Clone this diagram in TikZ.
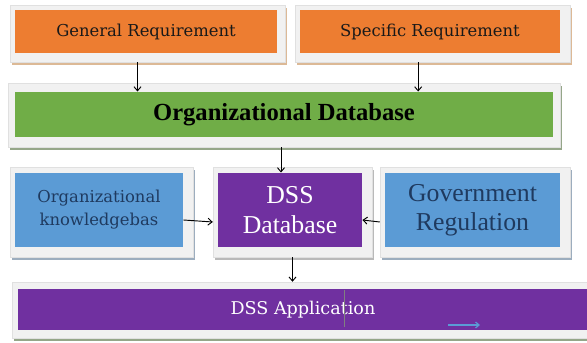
\documentclass[tikz,border=0pt]{standalone}
\usepackage{fontspec}
\setmainfont{Liberation Serif}
\newfontfamily\slabfont{DejaVu Serif}
\usetikzlibrary{shadows,arrows.meta}

\definecolor{reqorange}{HTML}{ED7D31}
\definecolor{dbgreen}{HTML}{70AD47}
\definecolor{kbblue}{HTML}{5B9BD5}
\definecolor{dsspurple}{HTML}{7030A0}
\definecolor{kbtext}{HTML}{1F3A5F}
\definecolor{framegray}{HTML}{F1F1F1}

\begin{document}
\begin{tikzpicture}[x=0.03cm,y=-0.03cm,
  thick,
  frame box/.style={rectangle,draw=black!12,fill=framegray,line width=0.4pt,inner sep=0pt},
  brown shadow/.style={drop shadow={fill=brown!55!white,opacity=1,shadow xshift=1.5pt,shadow yshift=-2.5pt}},
  green shadow/.style={drop shadow={fill=dbgreen!35!gray!80,opacity=1,shadow xshift=1.5pt,shadow yshift=-2.5pt}},
  blue shadow/.style={drop shadow={fill=kbblue!40!gray!70,opacity=1,shadow xshift=1.5pt,shadow yshift=-2.5pt}},
  gray shadow/.style={drop shadow={fill=gray!55,opacity=1,shadow xshift=1.5pt,shadow yshift=-2.5pt}},
  req box/.style={rectangle,fill=reqorange,minimum height=1.29cm,inner sep=0pt,
    text=black!90,font=\slabfont\fontsize{14}{17}\selectfont},
  kb box/.style={rectangle,fill=kbblue,minimum height=2.22cm,inner sep=0pt,align=center},
  dss box/.style={rectangle,fill=dsspurple,inner sep=0pt,align=center,text=white},
  arrow line/.style={-{Straight Barb[length=3.5pt,width=6pt]},line width=0.8pt,black}]

  \clip (0,0) rectangle (587,343);
  \fill[white] (0,0) rectangle (587,343);

  % top row
  \node[frame box,brown shadow,minimum width=8.25cm,minimum height=1.71cm] (genreqf) at (147.5,33.5) {};
  \node[req box,minimum width=7.86cm] (genreq) at (146,31.5) {General Requirement};
  \node[frame box,brown shadow,minimum width=8.25cm,minimum height=1.71cm] (specreqf) at (432.5,33.5) {};
  \node[req box,minimum width=7.8cm] (specreq) at (430,31.5) {Specific Requirement};

  % organizational database
  \node[frame box,green shadow,minimum width=16.56cm,minimum height=1.92cm] (orgdbf) at (284,115) {};
  \node[rectangle,fill=dbgreen,minimum width=16.14cm,minimum height=1.35cm,inner sep=0pt,
    font=\bfseries\fontsize{21}{24}\selectfont] (orgdb) at (284,114.5) {Organizational Database};

  % middle row
  \node[frame box,blue shadow,minimum width=5.49cm,minimum height=2.7cm] (orgkbf) at (101.5,212) {};
  \node[kb box,minimum width=5.04cm,text=kbtext,font=\slabfont\fontsize{14}{19.5}\selectfont]
    (orgkb) at (99,210) {Organizational\\knowledgebas};
  \node[frame box,gray shadow,minimum width=4.77cm,minimum height=2.7cm] (dssdbf) at (292.5,212) {};
  \node[dss box,minimum width=4.32cm,minimum height=2.22cm,font=\fontsize{22}{25}\selectfont]
    (dssdb) at (290,210) {DSS\\Database};
  \node[frame box,blue shadow,minimum width=5.7cm,minimum height=2.7cm] (govregf) at (475,212) {};
  \node[kb box,minimum width=5.25cm,text=kbtext,font=\fontsize{22}{24.5}\selectfont]
    (govreg) at (472.5,210) {Government\\Regulation};

  % bottom row
  \node[frame box,green shadow,minimum width=17.49cm,minimum height=1.68cm] (dssappf) at (303.5,310) {};
  \node[dss box,minimum width=17.1cm,minimum height=1.2cm,font=\slabfont\fontsize{15}{18}\selectfont]
    (dssapp) at (303,309.5) {DSS Application};

  \coordinate (curtop) at (344,290);
  \coordinate (curbot) at (344,327);
  \draw[gray,line width=0.6pt] (curtop) -- (curbot);
  \coordinate (bluetail) at (448,325);
  \coordinate (bluehead) at (480,325);
  \draw[-{Straight Barb[length=3pt,width=5pt]},kbblue,line width=1pt] (bluetail) -- (bluehead);

  % connectors
  \draw[arrow line] ([xshift=-0.3cm]genreqf.south) -- ([xshift=-0.3cm]genreqf.south |- orgdb.north);
  \draw[arrow line] ([xshift=-0.43cm]specreqf.south) -- ([xshift=-0.43cm]specreqf.south |- orgdb.north);
  \draw[arrow line] ([xshift=-0.09cm]orgdbf.south) -- ([xshift=-0.09cm]orgdbf.south |- dssdb.north);
  \draw[arrow line] ([yshift=-0.3cm]orgkb.east) -- ([yshift=-0.3cm]dssdbf.west);
  \draw[arrow line] ([yshift=-0.3cm]govregf.west) -- ([yshift=-0.3cm]dssdb.east);
  \draw[arrow line] (dssdbf.south) -- (dssdbf.south |- dssappf.north);
\end{tikzpicture}
\end{document}
